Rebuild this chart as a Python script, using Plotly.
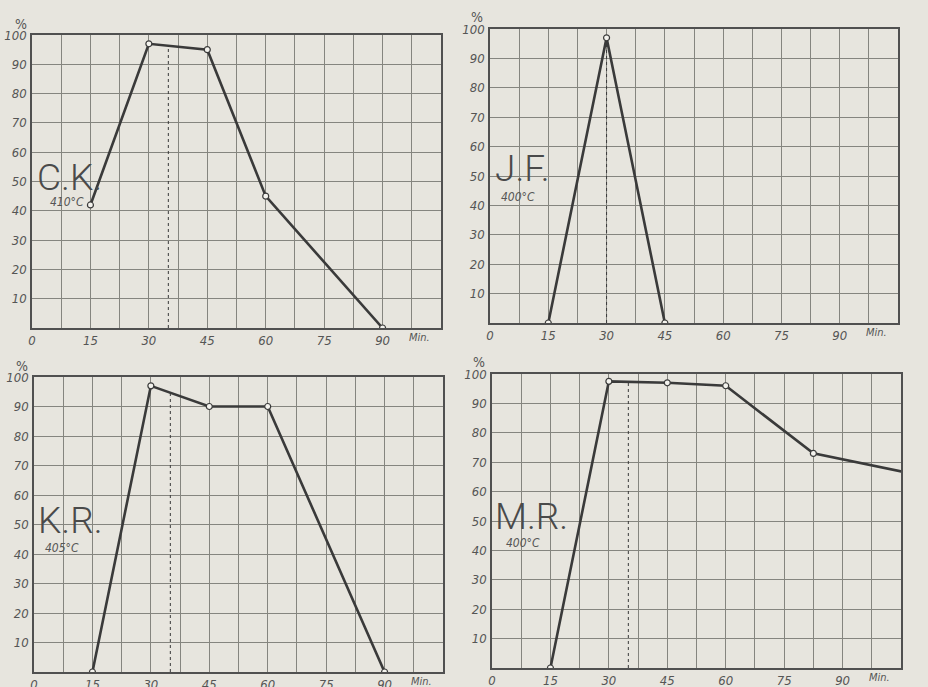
import plotly.graph_objects as go

# ---- data ----
minutes_ck = [15, 30, 45, 60, 90]
values_ck = [42, 97, 95, 45, 0]

minutes_jf = [15, 30, 45]
values_jf = [0, 97, 0]

minutes_kr = [15, 30, 45, 60, 90]
values_kr = [0, 97, 90, 90, 0]

minutes_mr = [15, 30, 45, 60, 82.5, 112]
values_mr = [0, 97.5, 97, 96, 73, 65]

# dashed marker lines (x, top value)
dash_ck = ([35, 35], [0, 96.3])
dash_jf = ([30, 30], [0, 97])
dash_kr = ([35, 35], [0, 94.7])
dash_mr = ([35, 35], [0, 97.3])

names = ["C.K.", "J.F.", "K.R.", "M.R."]
temps = ["410°C", "400°C", "405°C", "400°C"]

x_grid = [i * 7.5 for i in range(15)]
x_labels = ["0", "", "15", "", "30", "", "45", "", "60", "", "75", "", "90", "", ""]
y_grid = list(range(0, 101, 10))
y_labels = [""] + [str(v) for v in range(10, 101, 10)]

W, H = 928, 687
BG = "#e7e5de"
INK = "#3a3a3a"
GRID = "#85857f"
TXT = "#555555"
FONT = "DejaVu Sans Condensed, Liberation Sans, sans-serif"
BIGFONT = "Roboto, Liberation Sans, sans-serif"

# panel pixel boxes: (left, right, top, bottom)
boxes = [(32, 441, 35, 328), (490, 898, 29, 323), (34, 443, 377, 672), (492, 901, 374, 668)]

series = [(minutes_ck, values_ck, dash_ck), (minutes_jf, values_jf, dash_jf),
          (minutes_kr, values_kr, dash_kr), (minutes_mr, values_mr, dash_mr)]

# label pixel positions: big name (left, middle), temp (center, middle)
label_pos = [((35, 177), (67, 202)), ((493, 169), (518, 197)),
             ((36, 520), (62, 548)), ((493, 516), (523, 543))]
# plain areas behind the labels (x0, x1, y0, y1) in pixels
label_area = [(33, 91, 159, 209), (491, 550, 148, 204), (35, 93, 501, 556), (493, 549, 497, 551)]
pct_pos = [(21, 24), (477, 17), (22, 366), (479, 362)]

fig = go.Figure()
tickfont = dict(family=FONT, size=13, color=TXT, style="italic")

for i, ((l, r, t, b), (xs, ys, (dx, dy))) in enumerate(zip(boxes, series)):
    n = "" if i == 0 else str(i + 1)
    xa, ya = "x" + n, "y" + n
    fig.add_trace(go.Scatter(x=dx, y=dy, xaxis=xa, yaxis=ya, mode="lines",
                             line=dict(color=INK, width=1, dash="dot"),
                             showlegend=False, hoverinfo="skip"))
    fig.add_trace(go.Scatter(x=xs, y=ys, xaxis=xa, yaxis=ya, mode="lines+markers",
                             line=dict(color=INK, width=2.6),
                             marker=dict(symbol="circle", size=6, color="#f4f3ee",
                                         line=dict(color=INK, width=1.2)),
                             cliponaxis=True, showlegend=False))
    fig.layout["xaxis" + n] = dict(
        domain=[l / W, r / W], range=[0, 105], anchor=ya, automargin=False,
        tickmode="array", tickvals=x_grid, ticktext=x_labels,
        showgrid=True, gridcolor=GRID, gridwidth=1, zeroline=False,
        showline=True, mirror=True, linecolor="#505050", linewidth=1.5,
        ticks="", tickfont=tickfont, ticklabelstandoff=0, fixedrange=True)
    fig.layout["yaxis" + n] = dict(
        domain=[1 - b / H, 1 - t / H], range=[0, 100], anchor=xa, automargin=False,
        tickmode="array", tickvals=y_grid, ticktext=y_labels,
        showgrid=True, gridcolor=GRID, gridwidth=1, zeroline=False,
        showline=True, mirror=True, linecolor="#505050", linewidth=1.5,
        ticks="", tickfont=tickfont, ticklabelstandoff=1, fixedrange=True)
    ax0, ax1, ay0, ay1 = label_area[i]
    fig.add_shape(type="rect", xref="paper", yref="paper",
                  x0=ax0 / W, x1=ax1 / W, y0=1 - ay1 / H, y1=1 - ay0 / H,
                  fillcolor=BG, line=dict(width=0), layer="between")
    (bx, by), (tx, ty) = label_pos[i]
    fig.add_annotation(x=bx / W, y=1 - by / H, xref="paper", yref="paper",
                       xanchor="left", yanchor="middle",
                       text=names[i], showarrow=False,
                       font=dict(family=BIGFONT, size=37, color="#4a4a4a", weight=300))
    fig.add_annotation(x=tx / W, y=1 - ty / H, xref="paper", yref="paper",
                       xanchor="center", yanchor="middle",
                       text=temps[i], showarrow=False,
                       font=dict(family=FONT, size=12, color=TXT, style="italic"))
    px_, py_ = pct_pos[i]
    fig.add_annotation(x=px_ / W, y=1 - py_ / H, xref="paper", yref="paper",
                       xanchor="center", yanchor="middle",
                       text="%", showarrow=False,
                       font=dict(family=FONT, size=14, color=TXT))
    fig.add_annotation(x=99.5, y=0, xref=xa, yref=ya + " domain",
                       xanchor="center", yanchor="top",
                       text="Min.", showarrow=False, yshift=-1,
                       font=dict(family=FONT, size=11, color=TXT, style="italic"))

fig.update_layout(width=W, height=H, margin=dict(l=0, r=0, t=0, b=0),
                  paper_bgcolor=BG, plot_bgcolor=BG, showlegend=False)

fig.write_html("out.html", config={"displayModeBar": False},
               post_script="document.body.style.margin='0';document.body.style.overflow='hidden';")
